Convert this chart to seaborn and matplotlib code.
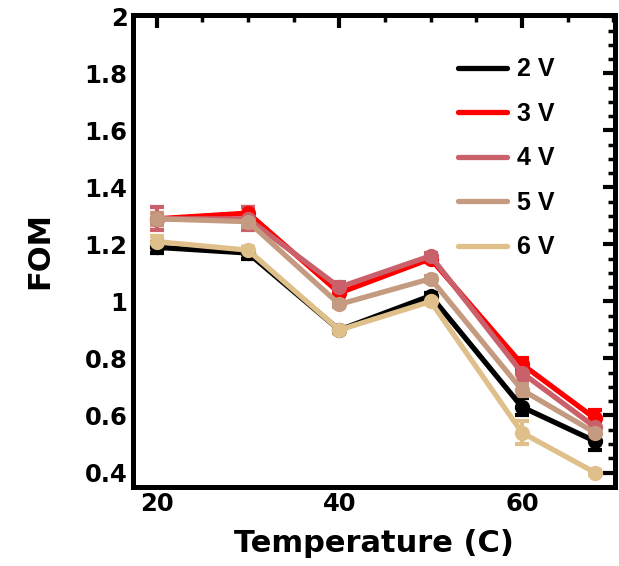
import numpy as np
import pandas as pd
import matplotlib
matplotlib.use("Agg")
import matplotlib.pyplot as plt
import seaborn as sns
from matplotlib.lines import Line2D
from matplotlib.ticker import MultipleLocator, FuncFormatter
from matplotlib import font_manager

# temperature points and FOM per bias voltage
temps = [20, 30, 40, 50, 60, 68]
voltages = ['2 V', '3 V', '4 V', '5 V', '6 V']
fom_2v = [1.19, 1.17, 0.90, 1.02, 0.63, 0.51]
fom_3v = [1.29, 1.31, 1.03, 1.15, 0.78, 0.59]
fom_4v = [1.29, 1.29, 1.05, 1.16, 0.75, 0.56]
fom_5v = [1.29, 1.28, 0.99, 1.08, 0.69, 0.54]
fom_6v = [1.21, 1.18, 0.90, 1.00, 0.54, 0.40]
err_2v = [0.02, 0.02, 0.01, 0.01, 0.03, 0.03]
err_3v = [0.02, 0.02, 0.01, 0.01, 0.02, 0.03]
err_4v = [0.04, 0.04, 0.02, 0.01, 0.03, 0.02]
err_5v = [0.02, 0.02, 0.01, 0.01, 0.02, 0.02]
err_6v = [0.02, 0.01, 0.01, 0.01, 0.04, 0.01]
colors = ['#000000', '#ff0000', '#c9606a', '#c49a80', '#e0c08a']

foms = [fom_2v, fom_3v, fom_4v, fom_5v, fom_6v]
errs = [err_2v, err_3v, err_4v, err_5v, err_6v]

rows = []
for v, f, e in zip(voltages, foms, errs):
    for t, y, s in zip(temps, f, e):
        rows.append({'Temperature': t, 'FOM': y, 'err': s, 'V': v})
df = pd.DataFrame(rows)

sns.set_style('white')
plt.rcParams['font.family'] = ['DejaVu Sans']
plt.rcParams['font.weight'] = 'bold'
plt.rcParams['text.color'] = 'black'
plt.rcParams['axes.labelcolor'] = 'black'

# regular-width Liberation Sans Bold for the legend (avoid the Narrow variant)
leg_font = None
for f in font_manager.fontManager.ttflist:
    if f.fname.endswith('LiberationSans-Bold.ttf'):
        leg_font = font_manager.FontProperties(fname=f.fname, size=18)
        break
if leg_font is None:
    leg_font = font_manager.FontProperties(family='DejaVu Sans', weight='bold', size=16)

fig = plt.figure(figsize=(6.19, 5.66), dpi=100)
ax = fig.add_axes([0.215, 0.14, 0.7785, 0.8335])

for v, c in zip(voltages, colors):
    d = df[df['V'] == v]
    ax.errorbar(d['Temperature'], d['FOM'], yerr=d['err'], fmt='none',
                ecolor=c, elinewidth=3, capsize=5, capthick=3, zorder=2)
    sns.lineplot(data=d, x='Temperature', y='FOM', color=c, marker='o',
                 markersize=11, markeredgewidth=0, linewidth=3.8, ax=ax,
                 legend=False, zorder=3)

ax.set_xlim(17.4, 70.2)
ax.set_ylim(0.35, 2.005)
ax.xaxis.set_major_locator(MultipleLocator(20))
ax.xaxis.set_minor_locator(MultipleLocator(5))
ax.yaxis.set_major_locator(MultipleLocator(0.2))
ax.yaxis.set_minor_locator(MultipleLocator(0.05))
ax.yaxis.set_major_formatter(FuncFormatter(lambda v, p: f'{v:g}'))

ax.tick_params(which='both', direction='in', top=True, right=True,
               labelsize=17.5, width=3, colors='black')
ax.tick_params(which='major', length=9, pad=4)
ax.tick_params(which='minor', length=5, width=2.5)
for sp in ax.spines.values():
    sp.set_linewidth(3.6)
    sp.set_color('black')

ax.set_xlabel('Temperature (C)', fontsize=22, fontweight='bold', labelpad=9, color='black')
ax.set_ylabel('FOM', fontsize=22, fontweight='bold', labelpad=22, color='black')

handles = [Line2D([0], [0], color=c, lw=3.8) for c in colors]
leg = ax.legend(handles, voltages, loc='upper right', bbox_to_anchor=(0.922, 0.958),
                frameon=False, handlelength=1.96, labelspacing=0.82,
                handletextpad=0.4, prop=leg_font)
for t in leg.get_texts():
    t.set_color('black')

fig.savefig('out.png', dpi=100)
